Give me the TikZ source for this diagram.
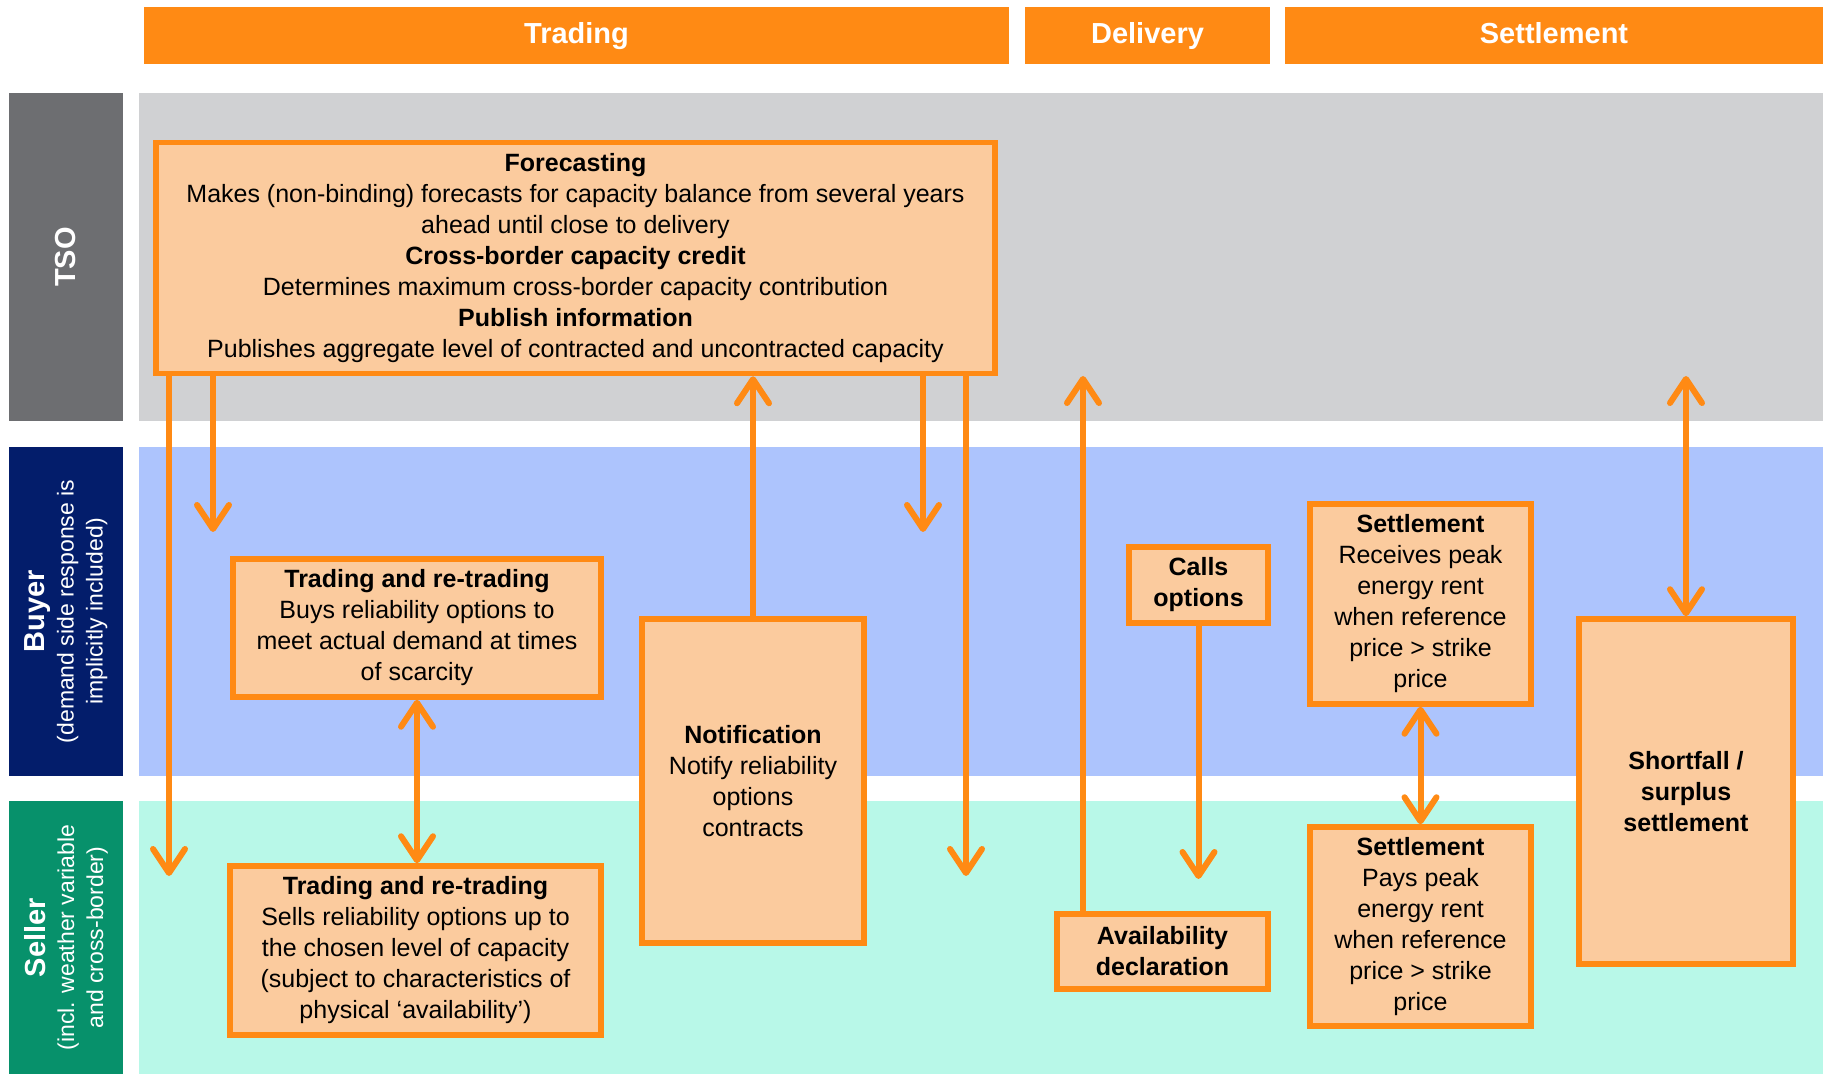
\documentclass[tikz,border=0pt]{standalone}
\usepackage{fontspec}
\setmainfont{Liberation Sans}
\usetikzlibrary{arrows.meta, positioning}
\definecolor{morange}{HTML}{FF8A14}
\definecolor{mpeach}{HTML}{FBCB9E}
\definecolor{mgray}{HTML}{6D6E71}
\definecolor{mnavy}{HTML}{031D6B}
\definecolor{mgreen}{HTML}{07916B}
\definecolor{lgray}{HTML}{D0D1D3}
\definecolor{lblue}{HTML}{ADC4FD}
\definecolor{lmint}{HTML}{B8F8E8}
\tikzstyle{stage} = [rectangle, minimum height=28.5pt, text height=10.5pt, text depth=2.5pt, text=white, fill=morange, font=\fontsize{14.5}{17}\selectfont\bfseries]
\tikzstyle{role} = [rectangle, rotate=90, minimum height=57pt, text=white, align=center, font=\fontsize{11.5}{14.5}\selectfont]
\tikzstyle{band} = [rectangle, minimum width=842pt]
\tikzstyle{task} = [rectangle, draw=morange, line width=2.75pt, fill=mpeach, inner sep=2pt, align=center, font=\fontsize{12.5}{15.5}\selectfont]
\tikzstyle{flow} = [morange, line width=3pt, -{Straight Barb[round, length=12pt, width=16pt]}]
\tikzstyle{twoway} = [morange, line width=3pt, {Straight Barb[round, length=12pt, width=16pt]}-{Straight Barb[round, length=12pt, width=16pt]}]
\newcommand{\rolehead}[1]{{\fontsize{14.5}{17}\selectfont\bfseries #1}}

\begin{document}
\begin{tikzpicture}[x=0.5pt, y=-0.5pt]
\useasboundingbox (0,0) rectangle (1832,1074);
%Phases
\node (trading) [stage, minimum width=432.5pt] at (576.5,35.5) {Trading};
\node (delivery) [stage, minimum width=122.5pt] at (1147.5,35.5) {Delivery};
\node (settle) [stage, minimum width=269pt] at (1554,35.5) {Settlement};
%Roles and lanes
\node (tsoband) [band, fill=lgray, minimum height=164pt] at (981,257) {};
\node (buyband) [band, fill=lblue, minimum height=164.5pt] at (981,611.5) {};
\node (sellband) [band, fill=lmint, minimum height=136.5pt] at (981,937.5) {};
\node (tso) [role, fill=mgray, minimum width=164pt] at (66,257) {\rolehead{TSO}};
\node (buyer) [role, fill=mnavy, minimum width=164.5pt] at (66,611.5) {\rolehead{Buyer}\\(demand side response is\\implicitly included)};
\node (seller) [role, fill=mgreen, minimum width=136.5pt] at (66,937.5) {\rolehead{Seller}\\(incl. weather variable\\and cross-border)};
%Tasks
\node (fc) [task, minimum width=419.5pt, minimum height=115.5pt] at (575.5,258) {\textbf{Forecasting}\\Makes (non-binding) forecasts for capacity balance from several years\\ahead until close to delivery\\\textbf{Cross-border capacity credit}\\Determines maximum cross-border capacity contribution\\\textbf{Publish information}\\Publishes aggregate level of contracted and uncontracted capacity};
\node (tbuy) [task, minimum width=184pt, minimum height=69pt] at (417,628) {\textbf{Trading and re-trading}\\Buys reliability options to\\meet actual demand at times\\of scarcity};
\node (tsell) [task, minimum width=185.5pt, minimum height=84.5pt] at (415.5,950.5) {\textbf{Trading and re-trading}\\Sells reliability options up to\\the chosen level of capacity\\(subject to characteristics of\\physical ‘availability’)};
\node (notif) [task, minimum width=111pt, minimum height=162pt] at (753,781) {\textbf{Notification}\\Notify reliability\\options\\contracts};
\node (calls) [task, minimum width=69.5pt, minimum height=38pt] at (1198.5,585) {\textbf{Calls}\\\textbf{options}};
\node (avail) [task, minimum width=105.5pt, minimum height=37.5pt] at (1162.5,951.5) {\textbf{Availability}\\\textbf{declaration}};
\node (sbuy) [task, minimum width=110.5pt, minimum height=100pt] at (1420.5,604) {\textbf{Settlement}\\Receives peak\\energy rent\\when reference\\price > strike\\price};
\node (ssell) [task, minimum width=110.5pt, minimum height=99.5pt] at (1420.5,926.5) {\textbf{Settlement}\\Pays peak\\energy rent\\when reference\\price > strike\\price};
\node (short) [task, minimum width=107pt, minimum height=172.5pt] at (1686,791.5) {\textbf{Shortfall /}\\\textbf{surplus}\\\textbf{settlement}};
%Flows
\coordinate (fcA) at (169,876);
\coordinate (fcB) at (213,532);
\coordinate (fcC) at (923,532);
\coordinate (fcD) at (966,876);
\coordinate (availUp) at (1083,376);
\coordinate (callsDown) at (1198.5,879);
\coordinate (shortUp) at (1686,376);
\draw [flow] (fc.south -| fcA) -- (fcA);
\draw [flow] (fc.south -| fcB) -- (fcB);
\draw [flow] (fc.south -| fcC) -- (fcC);
\draw [flow] (fc.south -| fcD) -- (fcD);
\draw [flow] (notif.north) -- (notif.north |- fc.south);
\draw [flow] (avail.north -| availUp) -- (availUp);
\draw [flow] (calls.south) -- (callsDown);
\draw [twoway] (tbuy.south) -- (tbuy.south |- tsell.north);
\draw [twoway] (sbuy.south) -- (ssell.north);
\draw [twoway] (short.north) -- (shortUp);
\end{tikzpicture}
\end{document}
